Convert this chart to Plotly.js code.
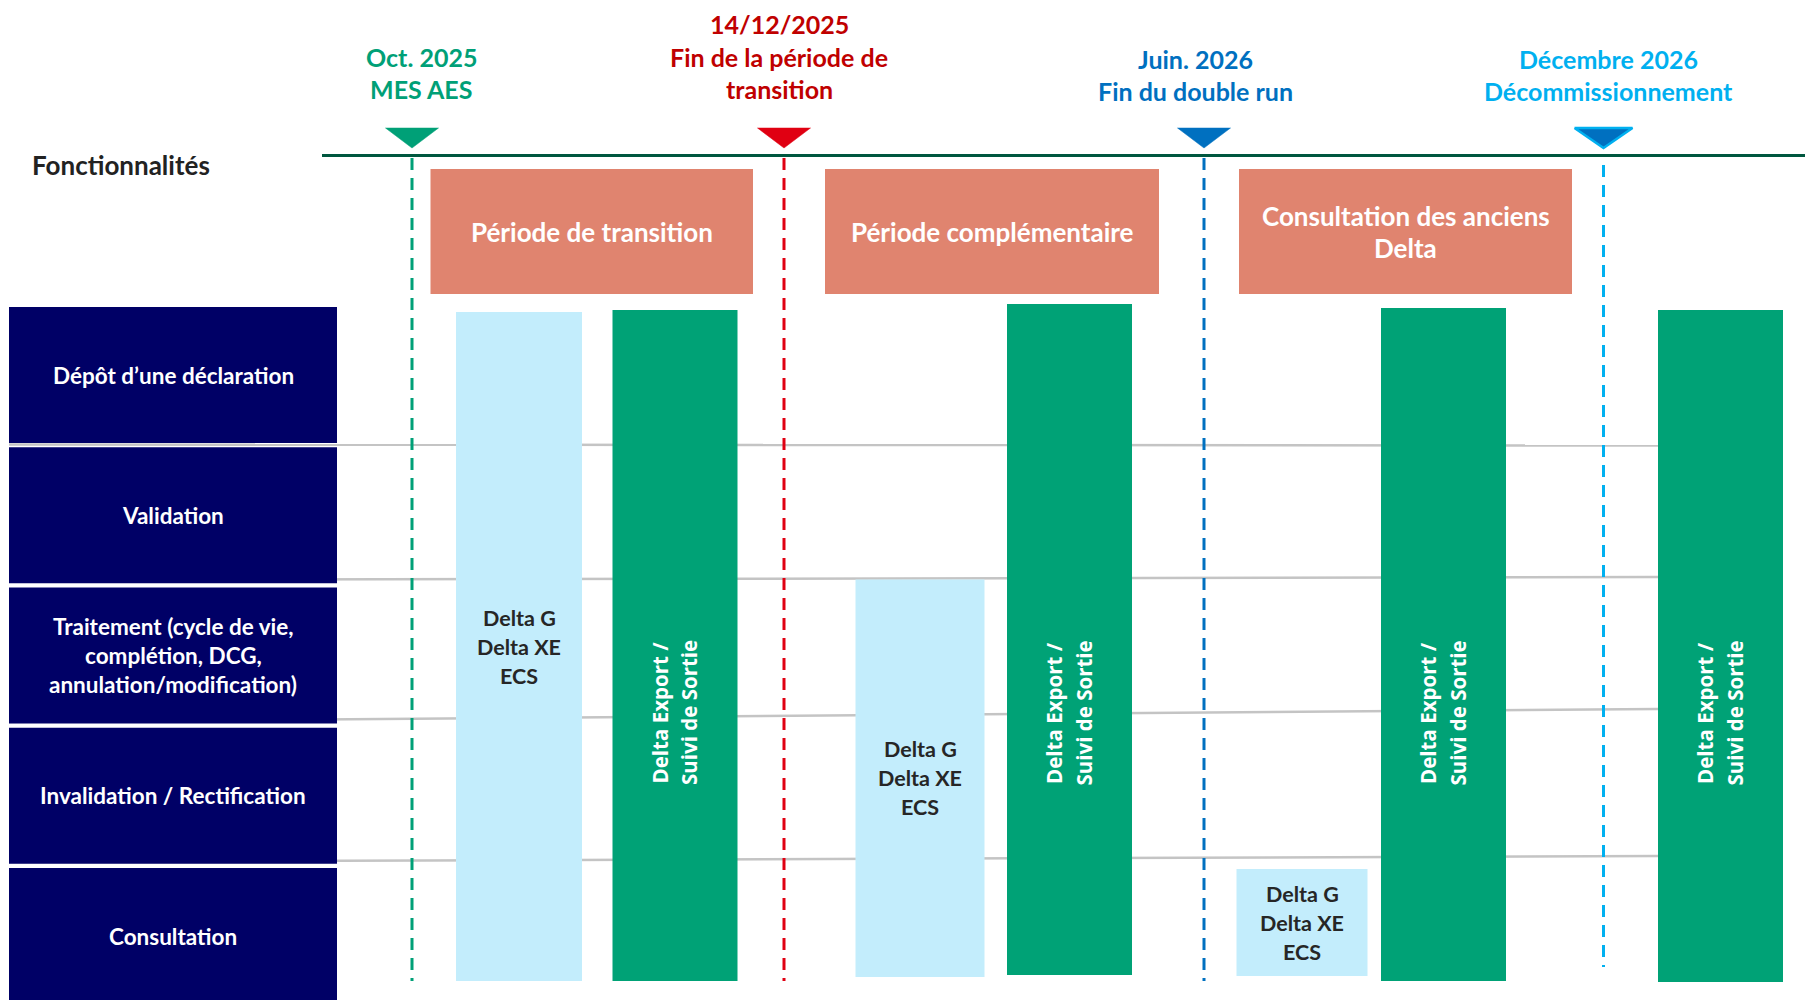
<!DOCTYPE html>
<html>
<head>
<meta charset="utf-8">
<script src="https://cdn.plot.ly/plotly-3.0.1.min.js"></script>
<style>html,body{margin:0;padding:0;background:#fff;}#chart{width:1805px;height:1000px;}</style>
</head>
<body>
<div id="chart"></div>
<script>
// ---------------- DATA ----------------
const headerLabel = "Fonctionnalités";
const rows = [
  ["Dépôt d’une déclaration"],
  ["Validation"],
  ["Traitement (cycle de vie,", "complétion, DCG,", "annulation/modification)"],
  ["Invalidation / Rectification"],
  ["Consultation"]
];
const milestoneDates = ["Oct. 2025", "14/12/2025", "Juin. 2026", "Décembre 2026"];
const milestoneNotes = [["MES AES"], ["Fin de la période de", "transition"], ["Fin du double run"], ["Décommissionnement"]];
const periods = [["Période de transition"], ["Période complémentaire"], ["Consultation des anciens", "Delta"]];
const legacyLabel = ["Delta G", "Delta XE", "ECS"];
const legacyFromRow = [0, 2, 4];
const legacyToRow = [5, 5, 5];
const exportLabel = ["Delta Export /", "Suivi de Sortie"];
const exportFromRow = [0, 0, 0, 0];
const exportToRow = [5, 5, 5, 5];

// ---------------- LAYOUT / STYLE ----------------
const ROW_TOP = 307, ROW_PITCH = 140.25;
function Y(px) { return (px - ROW_TOP) / ROW_PITCH; }  // pixel-row position -> row units
const FONT = "Lato, 'Open Sans', sans-serif";
const milestoneX = [412, 784, 1204, 1603.5];
const milestoneTextX = [421, 779, 1195, 1608];
const milestoneTextColor = ["#00A077", "#C00000", "#0070C0", "#00B0F0"];
const milestoneTriColor = ["#00A077", "#E00012", "#0070C0", "#0070C0"];
const milestoneTriLine = ["#00A077", "#E00012", "#0070C0", "#00B0F0"];
const milestoneTriHalf = [26.5, 26.5, 26.5, 29];
const milestoneDashEnd = [981, 981, 981, 967];
const periodX0 = [430.5, 825, 1239], periodX1 = [753, 1159, 1572];
const legacyX = [519, 920, 1302], legacyW = [126, 129, 131];
const legacyTopOffset = [5, -8, 1], legacyBottomPx = [981, 977, 976];
const exportX = [675, 1069.5, 1443.5, 1720.5], exportW = 125;
const exportTopOffset = [3, -3, 1, 3], exportBottomPx = [981, 975, 981, 982];
const sepLeft = [444.5, 580, 722, 862], sepRight = [445.5, 577, 709, 856];
const NAVY = "#000066", GREEN = "#00A276", LIGHT = "#C3EDFC", SALMON = "#E0846F";

const traces = [];
const annotations = [];
const shapes = [];

// Separator lines between rows (behind everything)
sepLeft.forEach((yl, i) => {
  shapes.push({type: "line", layer: "below", xref: "x", yref: "y", x0: 9, x1: 1658, y0: Y(yl), y1: Y(sepRight[i]),
    line: {color: "#C4C4C4", width: 2.5}});
});

// Navy row label boxes
traces.push({type: "bar", orientation: "h",
  y: rows.map((r, i) => i + 0.485), x: rows.map(() => 328), base: rows.map(() => 9),
  width: rows.map(() => 136 / ROW_PITCH), marker: {color: NAVY, line: {width: 0}}, hoverinfo: "skip"});
rows.forEach((lines, i) => {
  const cy = ROW_TOP + ROW_PITCH * i + 68;
  lines.forEach((t, k) => {
    annotations.push({x: 173, y: Y(cy + (k - (lines.length - 1) / 2) * 29), xref: "x", yref: "y",
      text: "<b>" + t + "</b>", showarrow: false, xanchor: "center", yanchor: "middle",
      font: {family: FONT, size: 22.5, color: "#FFFFFF"}});
  });
});

// Period boxes
traces.push({type: "bar", x: periods.map((p, i) => (periodX0[i] + periodX1[i]) / 2),
  base: periods.map(() => Y(169)), y: periods.map(() => 125 / ROW_PITCH),
  width: periods.map((p, i) => periodX1[i] - periodX0[i]),
  marker: {color: SALMON, line: {width: 0}}, hoverinfo: "skip"});
periods.forEach((lines, i) => {
  const cx = (periodX0[i] + periodX1[i]) / 2, cy = 232;
  lines.forEach((t, k) => {
    annotations.push({x: cx, y: Y(cy + (k - (lines.length - 1) / 2) * 32.5), xref: "x", yref: "y",
      text: "<b>" + t + "</b>", showarrow: false, xanchor: "center", yanchor: "middle",
      font: {family: FONT, size: 26, color: "#FFFFFF"}});
  });
});

// Legacy systems (light blue)
const legTop = legacyFromRow.map((r, i) => r + legacyTopOffset[i] / ROW_PITCH);
const legBot = legacyToRow.map((r, i) => Math.min(r, Y(legacyBottomPx[i])));
traces.push({type: "bar", x: legacyX, base: legTop, y: legTop.map((t, i) => legBot[i] - t),
  width: legacyW, marker: {color: LIGHT, line: {width: 0}}, hoverinfo: "skip"});
legacyX.forEach((cx, i) => {
  const midPx = ROW_TOP + ROW_PITCH * (legTop[i] + legBot[i]) / 2;
  legacyLabel.forEach((t, k) => {
    annotations.push({x: cx, y: Y(midPx + (k - 1) * 29), xref: "x", yref: "y",
      text: "<b>" + t + "</b>", showarrow: false, xanchor: "center", yanchor: "middle",
      font: {family: FONT, size: 21.5, color: "#262626"}});
  });
});

// Export systems (green)
const expTop = exportFromRow.map((r, i) => r + exportTopOffset[i] / ROW_PITCH);
const expBot = exportToRow.map((r, i) => Math.min(r, Y(exportBottomPx[i])));
traces.push({type: "bar", x: exportX, base: expTop, y: expTop.map((t, i) => expBot[i] - t),
  width: exportX.map(() => exportW), marker: {color: GREEN, line: {width: 0}}, hoverinfo: "skip"});
exportX.forEach((cx) => {
  exportLabel.forEach((t, k) => {
    annotations.push({x: cx + (k === 0 ? -15.5 : 14), y: Y(713), xref: "x", yref: "y",
      text: "<b>" + t + "</b>", showarrow: false, textangle: -90, xanchor: "center", yanchor: "middle",
      font: {family: "'Open Sans', sans-serif", size: 20.5, color: "#FFFFFF"}});
  });
});

// Milestone dashed lines
milestoneX.forEach((mx, i) => {
  traces.push({type: "scatter", mode: "lines", x: [mx, mx], y: [Y(i === 3 ? 165 : 158), Y(milestoneDashEnd[i])],
    line: {color: milestoneTriLine[i], width: 3, dash: "12px,8px"}, hoverinfo: "skip"});
});

// Header timeline line
traces.push({type: "scatter", mode: "lines", x: [322, 1805], y: [Y(155.5), Y(155.5)],
  line: {color: "#00573F", width: 3}, hoverinfo: "skip"});

// Milestone triangles and texts
milestoneX.forEach((mx, i) => {
  const h = milestoneTriHalf[i];
  traces.push({type: "scatter", mode: "lines", fill: "toself", fillcolor: milestoneTriColor[i],
    x: [mx - h, mx + h, mx, mx - h], y: [Y(128), Y(128), Y(148), Y(128)],
    line: {color: milestoneTriLine[i], width: i === 3 ? 2.5 : 0.5}, hoverinfo: "skip"});
  const lines = [milestoneDates[i]].concat(milestoneNotes[i]);
  const bottom = (i === 0 || i === 1) ? 89 : 91;
  lines.forEach((t, k) => {
    annotations.push({x: milestoneTextX[i], y: Y(bottom - (lines.length - 1 - k) * 32.5), xref: "x", yref: "y",
      text: "<b>" + t + "</b>", showarrow: false, xanchor: "center", yanchor: "middle",
      font: {family: FONT, size: 25, color: milestoneTextColor[i]}});
  });
});

// Header label
annotations.push({x: 30, y: Y(165), xref: "x", yref: "y", text: "<b>" + headerLabel + "</b>",
  showarrow: false, xanchor: "left", yanchor: "middle", font: {family: FONT, size: 26, color: "#222222"}});

const layout = {
  width: 1805, height: 1000,
  margin: {l: 0, r: 0, t: 0, b: 0},
  paper_bgcolor: "#FFFFFF", plot_bgcolor: "#FFFFFF",
  showlegend: false, barmode: "overlay", hovermode: false,
  xaxis: {range: [0, 1805], visible: false, fixedrange: true},
  yaxis: {range: [Y(1000), Y(0)], visible: false, fixedrange: true},
  annotations: annotations,
  shapes: shapes,
  font: {family: FONT}
};

Plotly.newPlot("chart", traces, layout, {displayModeBar: false, staticPlot: true});
</script>
</body>
</html>
